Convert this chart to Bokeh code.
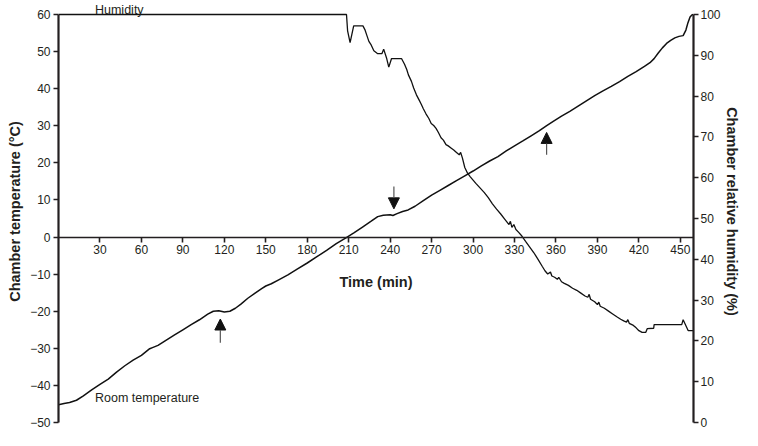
from bokeh.plotting import figure
from bokeh.models import Range1d, LinearAxis, FixedTicker, Label, Arrow, NormalHead, ColumnDataSource
from bokeh.embed import file_html
from bokeh.resources import INLINE

# ---- data ----
temp_time = [0, 4, 8, 13, 18, 24, 30, 36, 42, 48, 54, 60, 66, 68, 72, 78, 84, 90, 96, 102,
             108, 112, 116, 120, 124, 128, 132, 137, 142, 147, 150, 154, 159, 166, 173, 180,
             187, 194, 201, 208, 214, 220, 226, 231, 235, 240, 242, 245, 249, 253, 258, 264,
             270, 276, 282, 288, 294, 300, 306, 312, 318, 324, 330, 336, 342, 348, 353, 358,
             364, 370, 376, 382, 388, 394, 400, 406, 412, 418, 424, 428, 431, 434, 437, 440,
             443, 446, 449, 452, 454, 455.5, 457, 458.5, 459.3]
temp_value = [-45.2, -44.9, -44.6, -44.0, -42.8, -41.2, -39.7, -38.3, -36.4, -34.7, -33.2,
              -31.9, -30.1, -29.8, -29.2, -27.8, -26.4, -25.0, -23.6, -22.3, -20.8, -20.0,
              -19.9, -20.2, -20.0, -19.2, -18.1, -16.5, -15.2, -13.9, -13.2, -12.6, -11.6,
              -10.2, -8.6, -7.0, -5.3, -3.6, -1.8, -0.2, 1.2, 2.7, 4.2, 5.5, 5.9, 6.0, 5.8,
              6.3, 6.9, 7.3, 8.3, 9.8, 11.3, 12.6, 13.9, 15.2, 16.5, 17.8, 19.2, 20.5, 21.7,
              23.2, 24.6, 25.9, 27.3, 28.7, 30.0, 31.2, 32.6, 33.9, 35.3, 36.7, 38.1, 39.4,
              40.6, 41.9, 43.3, 44.6, 46.0, 47.0, 48.1, 49.6, 51.0, 52.2, 53.0, 53.7, 54.1,
              54.3, 55.8, 57.8, 59.3, 59.9, 60.0]

hum_time = [0, 208.4, 209.2, 211, 213.6, 220.3, 221.7, 223, 224.6, 226, 228.2, 231, 234,
            235.3, 237.5, 239, 241, 248.2, 250.4, 252, 253.2, 255.4, 257, 259, 261, 262.5,
            264, 266, 268, 269.7, 271.5, 273.2, 275, 276.8, 278.5, 280.4, 282, 284, 286, 288,
            290, 291, 292.3, 294, 296, 298, 300, 302, 305, 308, 311, 314, 317, 320, 323, 326,
            327, 328.1, 329.5, 331, 333, 335.3, 338, 341, 344, 347, 350, 352, 354, 356, 357,
            359, 361, 362, 364, 366, 369, 372, 375, 378, 381, 383, 384, 385, 388, 390, 391,
            392, 395, 398, 401, 404, 406.8, 409, 411, 412, 413, 416, 418, 420, 422.3, 425,
            426, 430.7, 431, 451, 452, 455.7, 459.3]
hum_value = [100, 100, 96, 93.1, 97.2, 97.2, 96.3, 95.0, 93.4, 92.7, 91.1, 90.4, 90.4, 91.5,
             89.2, 87.1, 89.2, 89.2, 87.8, 86.5, 85.2, 83.6, 82.0, 80.3, 79.0, 78.0, 76.9,
             75.6, 74.5, 73.3, 72.8, 72.1, 71.0, 69.8, 69.2, 68.1, 67.8, 67.3, 66.8, 66.2,
             65.6, 66.2, 64.8, 62.5, 61.1, 60.2, 59.4, 58.6, 57.5, 56.4, 55.1, 53.6, 52.3,
             51.1, 49.8, 48.5, 49.3, 47.8, 48.5, 47.3, 46.6, 45.7, 44.4, 43.0, 41.6, 40.0,
             38.3, 37.2, 36.4, 36.9, 35.9, 35.6, 35.1, 35.6, 34.5, 34.1, 33.6, 32.9, 32.4,
             31.7, 31.0, 30.7, 31.4, 30.2, 29.6, 28.9, 29.5, 28.5, 28.0, 27.3, 26.6, 25.9,
             25.3, 24.9, 24.6, 25.2, 24.3, 23.8, 23.2, 22.5, 22.1, 22.1, 23.0, 23.1, 24.0,
             24.0, 25.2, 22.5, 22.5]

x_ticks = [30, 60, 90, 120, 150, 180, 210, 240, 270, 300, 330, 360, 390, 420, 450]
temp_ticks = [-50, -40, -30, -20, -10, 0, 10, 20, 30, 40, 50, 60]
temp_tick_labels = ["\u221250", "\u221240", "\u221230", "\u221220", "\u221210", "0",
                    "10", "20", "30", "40", "50", "60"]
hum_ticks = [0, 10, 20, 30, 40, 50, 60, 70, 80, 90, 100]

arrow_time = [117.1, 242.7, 353.2]
arrow_tail = [-28.5, 13.6, 22.2]
arrow_tip = [-22.1, 7.6, 28.2]

INK = "#231f20"
FONT = "Liberation Sans"

T_TOP = 63.77                      # a little headroom above 60 for the "Humidity" note
H_TOP = (T_TOP + 50) / 110 * 100   # same headroom on the humidity scale

p = figure(width=742, height=430, output_backend="svg", toolbar_location=None,
           x_range=Range1d(0, 459.5), y_range=Range1d(-50, T_TOP),
           min_border_left=58, min_border_right=40, min_border_top=0, min_border_bottom=8)
p.extra_y_ranges = {"hum": Range1d(0, H_TOP)}
p.outline_line_color = None
p.grid.visible = False
p.background_fill_color = "white"
p.border_fill_color = "white"

# x axis crossing at 0 °C
xa = p.xaxis[0]
xa.fixed_location = 0
xa.ticker = FixedTicker(ticks=x_ticks)
xa.axis_label = "Time (min)"

ya = p.yaxis[0]
ya.ticker = FixedTicker(ticks=temp_ticks)
ya.major_label_overrides = dict(zip(temp_ticks, temp_tick_labels))
ya.axis_label = "Chamber temperature (\u00b0C)"
ya.bounds = (-50, 60)

ra = LinearAxis(y_range_name="hum", ticker=FixedTicker(ticks=hum_ticks),
                axis_label="Chamber relative humidity (%)", bounds=(0, 100))
p.add_layout(ra, "right")

for ax in (xa, ya, ra):
    ax.axis_line_color = INK
    ax.major_tick_line_color = INK
    ax.major_tick_out = 5
    ax.major_tick_in = 0
    ax.minor_tick_line_color = None
    ax.major_label_text_font = FONT
    ax.major_label_text_font_size = "12px"
    ax.major_label_text_color = INK
    ax.major_label_standoff = 3
    ax.axis_label_text_font = FONT
    ax.axis_label_text_font_size = "14.5px"
    ax.axis_label_text_font_style = "bold"
    ax.axis_label_text_color = INK
    ax.axis_label_standoff = 4
xa.axis_line_width = 1.6
xa.major_tick_line_width = 1.6
xa.axis_label_standoff = 16
ya.axis_line_width = 2.2
ya.major_tick_line_width = 1.6
ra.axis_line_width = 2.2
ra.major_tick_line_width = 1.6
ra.major_label_standoff = 2
ra.axis_label_standoff = 0

p.line(temp_time, temp_value, line_color="#111111", line_width=1.5)
p.line(hum_time, hum_value, line_color="#111111", line_width=1.3, y_range_name="hum")

src_arrows = ColumnDataSource(dict(x0=arrow_time, y0=arrow_tail, x1=arrow_time, y1=arrow_tip))
p.add_layout(Arrow(source=src_arrows, x_start="x0", y_start="y0", x_end="x1", y_end="y1",
                   line_color="#555555", line_width=1.2,
                   end=NormalHead(size=11, fill_color="#111111", line_color="#111111",
                                  line_width=1)))

p.add_layout(Label(x=26.4, y=60, y_offset=4, text="Humidity", text_font=FONT,
                   text_font_size="12.5px", text_color=INK, text_baseline="alphabetic"))
p.add_layout(Label(x=26.4, y=-43.3, text="Room temperature", text_font=FONT,
                   text_font_size="12.5px", text_color=INK, text_baseline="middle"))

open("out.html", "w").write(file_html(p, INLINE))
